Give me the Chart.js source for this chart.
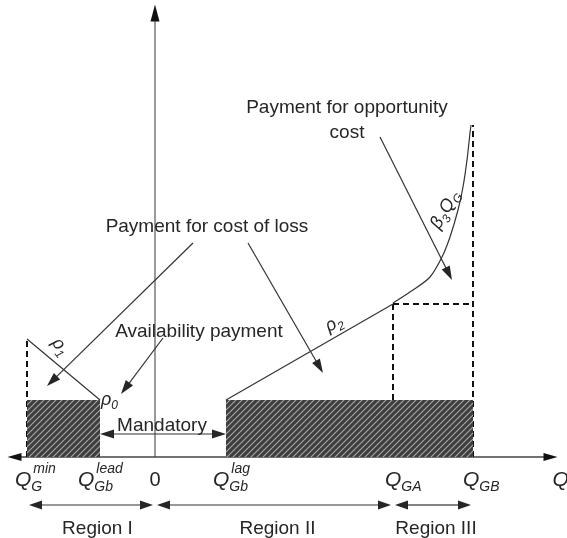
<!DOCTYPE html>
<html lang="en">
<head>
<meta charset="UTF-8">
<title>Payment regions</title>
<style>
  html, body { margin: 0; padding: 0; background: #fff; }
  #wrap { width: 567px; height: 538px; position: relative; }
</style>
</head>
<body>
<div id="wrap"><canvas id="myChart"></canvas></div>
<script src="https://cdn.jsdelivr.net/npm/chart.js"></script>
<script>
// Q axis positions (x)
const qMin = -5.12;
const qLead = -2.2;
const qLag = 2.84;
const qGA = 9.52;
const qGB = 12.72;

// payment levels (y)
const baseLevel = 2.28;
const rho1Top = 4.72;
const kneeLevel = 6.12;
const curveTop = 13.28;

// beta3 QG curve above QGA
const curveQ = [9.52, 10.32, 11.0, 11.48, 11.8, 12.12, 12.32, 12.48, 12.6, 12.64];
const curveP = [6.16, 6.68, 7.2, 8.0, 8.8, 9.88, 10.8, 11.88, 12.96, 13.28];

// tick labels on the Q axis
const tickQ = [qMin, qLead, 0, qLag, qGA, qGB];
const tickSub = ['G', 'Gb', '', 'Gb', 'GA', 'GB'];
const tickSup = ['min', 'lead', '', 'lag', '', ''];
const tickMain = ['Q', 'Q', '0', 'Q', 'Q', 'Q'];

// regions below the axis
const regionNames = ['Region I', 'Region II', 'Region III'];
const regionFrom = [qMin, 0, qGA];
const regionTo = [0, qGA, qGB];

const FONT = '"Liberation Sans", Arial, sans-serif';
const INK = '#262626';

// hatch pattern for the availability payment blocks
function hatch() {
    const c = document.createElement('canvas');
    c.width = 6; c.height = 6;
    const g = c.getContext('2d');
    g.fillStyle = '#3e3e3e';
    g.fillRect(0, 0, 6, 6);
    g.strokeStyle = '#a8a8a8';
    g.lineWidth = 1.1;
    g.beginPath();
    g.moveTo(0, 6); g.lineTo(6, 0);
    g.moveTo(-1, 1); g.lineTo(1, -1);
    g.moveTo(5, 7); g.lineTo(7, 5);
    g.stroke();
    return g.createPattern(c, 'repeat');
}

function seg(x1, y1, x2, y2) {
    return [{ x: x1, y: y1 }, { x: x2, y: y2 }];
}

const solid = { showLine: true, pointRadius: 0, borderColor: '#333', borderWidth: 1.2, fill: false };
const dashed = { showLine: true, pointRadius: 0, borderColor: '#111', borderWidth: 2, borderDash: [6, 4], fill: false };
const pattern = hatch();

function arrow(ctx, x1, y1, x2, y2, len, half) {
    const a = Math.atan2(y2 - y1, x2 - x1);
    ctx.beginPath();
    ctx.moveTo(x1, y1);
    ctx.lineTo(x2 - Math.cos(a) * len * 0.6, y2 - Math.sin(a) * len * 0.6);
    ctx.stroke();
    ctx.beginPath();
    ctx.moveTo(x2, y2);
    ctx.lineTo(x2 - Math.cos(a) * len - Math.sin(a) * half, y2 - Math.sin(a) * len + Math.cos(a) * half);
    ctx.lineTo(x2 - Math.cos(a) * len + Math.sin(a) * half, y2 - Math.sin(a) * len - Math.cos(a) * half);
    ctx.closePath();
    ctx.fill();
}

// draws e.g. Q with subscript and superscript, left at x, baseline at y
function mathLabel(ctx, x, y, main, sub, sup, size) {
    ctx.textAlign = 'left';
    ctx.font = 'italic ' + size + 'px ' + FONT;
    ctx.fillText(main, x, y);
    const w = ctx.measureText(main).width;
    ctx.font = 'italic ' + Math.round(size * 0.66) + 'px ' + FONT;
    if (sub) ctx.fillText(sub, x + w, y + size * 0.25);
    if (sup) ctx.fillText(sup, x + w + 2, y - size * 0.62);
}

const decor = {
    id: 'decor',
    beforeDatasetsDraw(chart) {
        const ctx = chart.ctx;
        const sx = chart.scales.x, sy = chart.scales.y;
        const X = v => sx.getPixelForValue(v), Y = v => sy.getPixelForValue(v);
        ctx.save();
        // vertical axis
        ctx.strokeStyle = '#9a9a9a';
        ctx.fillStyle = '#111';
        ctx.lineWidth = 2;
        arrow(ctx, X(0), Y(0), X(0), Y(18.1), 17, 4.5);
        // horizontal axis, both directions
        ctx.strokeStyle = '#444';
        ctx.lineWidth = 1.3;
        arrow(ctx, X(0), Y(0), X(-5.9), Y(0), 14, 4);
        arrow(ctx, X(0), Y(0), X(16.1), Y(0), 14, 4);
        ctx.restore();
    },
    afterDatasetsDraw(chart) {
        const ctx = chart.ctx;
        const sx = chart.scales.x, sy = chart.scales.y;
        const X = v => sx.getPixelForValue(v), Y = v => sy.getPixelForValue(v);
        ctx.save();
        ctx.fillStyle = INK;
        ctx.strokeStyle = '#333';
        ctx.lineWidth = 1.2;

        // annotation arrows
        arrow(ctx, X(9.0), Y(12.8), X(11.88), Y(7.08), 14, 4.5);
        arrow(ctx, X(1.52), Y(8.56), X(-4.32), Y(2.84), 14, 4.5);
        arrow(ctx, X(3.72), Y(8.56), X(6.72), Y(3.36), 14, 4.5);
        arrow(ctx, X(0.32), Y(4.76), X(-1.36), Y(2.52), 14, 4.5);
        // mandatory double arrow
        arrow(ctx, X((qLead + qLag) / 2), Y(0.92), X(qLead), Y(0.92), 14, 4.5);
        arrow(ctx, X((qLead + qLag) / 2), Y(0.92), X(qLag), Y(0.92), 14, 4.5);

        // region arrows
        for (let i = 0; i < regionNames.length; i++) {
            const a = X(regionFrom[i]) + 2, b = X(regionTo[i]) - 2, m = (a + b) / 2;
            arrow(ctx, m, Y(-1.92), a, Y(-1.92), 13, 4.5);
            arrow(ctx, m, Y(-1.92), b, Y(-1.92), 13, 4.5);
        }

        // text annotations
        ctx.font = '19px ' + FONT;
        ctx.textAlign = 'center';
        ctx.fillText('Payment for opportunity', X(7.68), Y(13.76));
        ctx.fillText('cost', X(7.68), Y(12.76));
        ctx.fillText('Payment for cost of loss', X(2.08), Y(9.0));
        ctx.fillText('Availability payment', X(1.76), Y(4.82));
        ctx.fillText('Mandatory', X(0.28), Y(1.04));
        ctx.fillText(regionNames[0], X(-2.3), Y(-3.08));
        ctx.fillText(regionNames[1], X(4.9), Y(-3.08));
        ctx.fillText(regionNames[2], X(11.24), Y(-3.08));

        // tick labels
        const offs = [-12, -22, 0, -13, -8, -10];
        for (let i = 0; i < tickQ.length; i++) {
            if (tickMain[i] === '0') {
                ctx.font = '20px ' + FONT;
                ctx.textAlign = 'center';
                ctx.fillText('0', X(tickQ[i]), Y(-1.16));
            } else {
                mathLabel(ctx, X(tickQ[i]) + offs[i], Y(-1.16), tickMain[i], tickSub[i], tickSup[i], 21);
            }
        }
        mathLabel(ctx, X(15.9), Y(-1.16), 'Q', '', '', 21);

        // curve labels
        mathLabel(ctx, X(-2.16), Y(2.1), 'ρ', '0', '', 18);
        ctx.save();
        ctx.translate(X(-3.76), Y(4.46));
        ctx.rotate(0.9);
        mathLabel(ctx, -8, 6, 'ρ', '1', '', 18);
        ctx.restore();
        ctx.save();
        ctx.translate(X(7.12), Y(5.36));
        ctx.rotate(-0.52);
        mathLabel(ctx, -8, 6, 'ρ', '2', '', 18);
        ctx.restore();
        ctx.save();
        ctx.translate(X(11.6), Y(9.96));
        ctx.rotate(-1.05);
        mathLabel(ctx, -22, 6, 'β', '3', '', 18);
        ctx.font = 'italic 18px ' + FONT;
        ctx.fillText('Q', -4, 6);
        ctx.font = 'italic 12px ' + FONT;
        ctx.fillText('G', 10, 10);
        ctx.restore();

        ctx.restore();
    }
};

const ctx = document.getElementById('myChart').getContext('2d');
const myChart = new Chart(ctx, {
    type: 'scatter',
    data: {
        datasets: [
            { data: seg(qMin, baseLevel, qLead, baseLevel), showLine: true, pointRadius: 0, borderWidth: 0, backgroundColor: pattern, fill: 'origin' },
            { data: seg(qLag, baseLevel, qGB, baseLevel), showLine: true, pointRadius: 0, borderWidth: 0, backgroundColor: pattern, fill: 'origin' },
            Object.assign({ data: seg(qMin, rho1Top, qLead, baseLevel) }, solid),
            Object.assign({ data: seg(qLag, baseLevel, qGA, kneeLevel) }, solid),
            Object.assign({ data: curveQ.map((q, i) => ({ x: q, y: curveP[i] })), tension: 0.3 }, solid),
            Object.assign({ data: seg(qMin, 0, qMin, rho1Top) }, dashed),
            Object.assign({ data: seg(qGA, baseLevel, qGA, kneeLevel) }, dashed),
            Object.assign({ data: seg(qGB, 0, qGB, curveTop) }, dashed),
            Object.assign({ data: seg(qGA, kneeLevel, qGB, kneeLevel) }, dashed)
        ]
    },
    options: {
        responsive: true,
        maintainAspectRatio: false,
        animation: false,
        events: [],
        layout: { padding: 0 },
        plugins: { legend: { display: false }, tooltip: { enabled: false } },
        scales: {
            x: { type: 'linear', min: -6.2, max: 16.48, display: false },
            y: { type: 'linear', min: -3.24, max: 18.28, display: false }
        }
    },
    plugins: [decor]
});
</script>
</body>
</html>
